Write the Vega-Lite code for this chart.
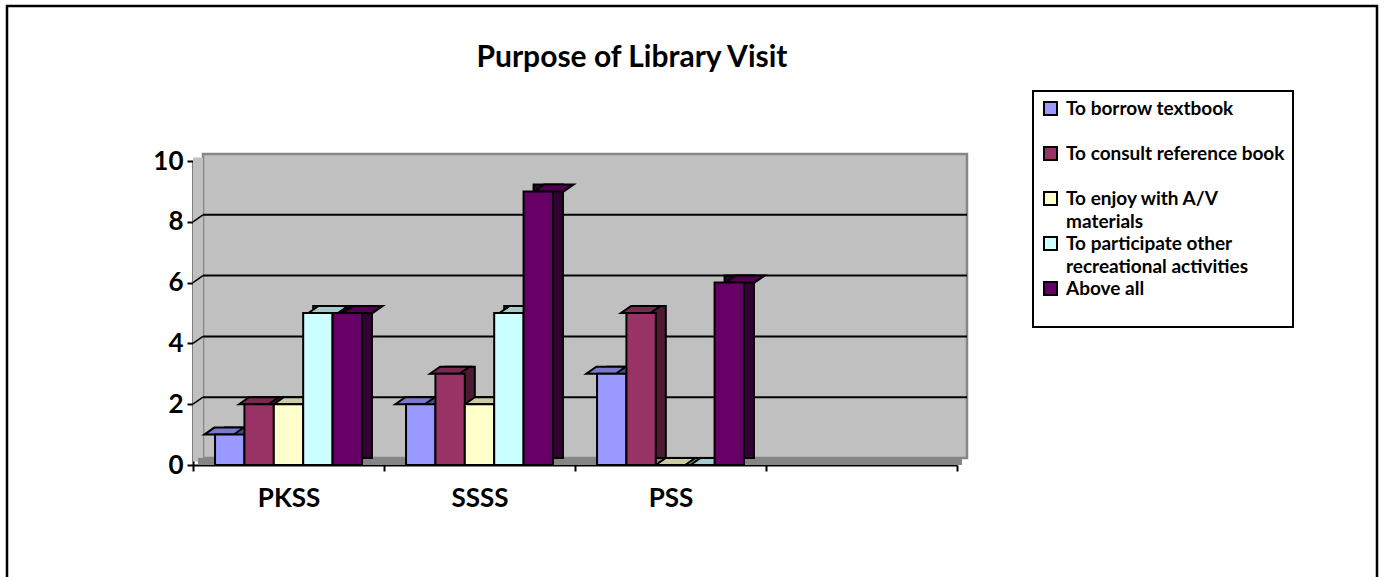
{
  "$schema": "https://vega.github.io/schema/vega-lite/v6.json",
  "width": 1370,
  "height": 575,
  "autosize": {"type": "none"},
  "padding": {"left": 7, "top": 6, "right": 7, "bottom": -4},
  "background": "white",
  "config": {
    "font": "Lato",
    "view": {"stroke": "black", "strokeWidth": 2.5, "fill": "white"},
    "axis": {"grid": false, "domainColor": "black", "domainWidth": 2, "tickColor": "black", "tickWidth": 2, "tickSize": 6, "labelFont": "Lato", "labelFontWeight": "bold", "labelColor": "black", "labelFontSize": 26},
    "axisY": {"offset": -186, "labelPadding": 4},
    "axisX": {"offset": -116, "labelPadding": 14, "labelAngle": 0},
    "legend": {"strokeWidth": 2},
    "style": {"guide-label": {"lineHeight": 23}}
  },
  "title": {
    "text": "Purpose of Library Visit",
    "font": "Lato",
    "fontSize": 30,
    "fontWeight": "bold",
    "color": "black",
    "anchor": "middle",
    "frame": "group",
    "offset": 0,
    "baseline": "alphabetic",
    "dx": -60,
    "dy": 91
  },
  "datasets": {
    "visits": [
      {"school": "PKSS", "purpose": "To borrow textbook", "count": 1},
      {"school": "PKSS", "purpose": "To consult reference book", "count": 2},
      {"school": "PKSS", "purpose": "To enjoy with A/V materials", "count": 2},
      {"school": "PKSS", "purpose": "To participate other recreational activities", "count": 5},
      {"school": "PKSS", "purpose": "Above all", "count": 5},
      {"school": "SSSS", "purpose": "To borrow textbook", "count": 2},
      {"school": "SSSS", "purpose": "To consult reference book", "count": 3},
      {"school": "SSSS", "purpose": "To enjoy with A/V materials", "count": 2},
      {"school": "SSSS", "purpose": "To participate other recreational activities", "count": 5},
      {"school": "SSSS", "purpose": "Above all", "count": 9},
      {"school": "PSS", "purpose": "To borrow textbook", "count": 3},
      {"school": "PSS", "purpose": "To consult reference book", "count": 5},
      {"school": "PSS", "purpose": "To enjoy with A/V materials", "count": 0},
      {"school": "PSS", "purpose": "To participate other recreational activities", "count": 0},
      {"school": "PSS", "purpose": "Above all", "count": 6}
    ],
    "gridlines": [{"v": 2}, {"v": 4}, {"v": 6}, {"v": 8}],
    "plane": [{}]
  },
  "layer": [
    {
      "data": {"name": "plane"},
      "mark": {"type": "rect", "fill": "#C0C0C0", "stroke": "#868686", "strokeWidth": 2.5, "xOffset": 10, "x2Offset": 10, "yOffset": -7, "y2Offset": -7},
      "encoding": {
        "x": {"datum": 0, "type": "quantitative", "scale": {"domain": [0, 1], "range": [186, 950]}, "axis": null},
        "x2": {"datum": 1},
        "y": {"datum": 0, "type": "quantitative", "scale": {"domain": [0, 10], "range": [459, 155]}, "title": null, "axis": {"values": [0, 2, 4, 6, 8, 10], "format": "d", "orient": "left"}},
        "y2": {"datum": 10}
      }
    },
    {
      "data": {"name": "plane"},
      "mark": {"type": "rect", "fill": "#C0C0C0", "x2Offset": 10, "yOffset": -3.5, "y2Offset": -3.5},
      "encoding": {
        "x": {"datum": 0, "type": "quantitative", "scale": {"domain": [0, 1], "range": [186, 950]}, "axis": null},
        "x2": {"datum": 0},
        "y": {"datum": 0, "type": "quantitative", "scale": {"domain": [0, 10], "range": [459, 155]}, "title": null},
        "y2": {"datum": 10}
      }
    },
    {
      "data": {"name": "plane"},
      "mark": {"type": "rect", "fill": "#858585", "xOffset": 5, "x2Offset": 5, "yOffset": -7},
      "encoding": {
        "x": {"datum": 0, "type": "quantitative", "scale": {"domain": [0, 1], "range": [186, 950]}, "axis": null},
        "x2": {"datum": 1},
        "y": {"datum": 0, "type": "quantitative", "scale": {"domain": [0, 10], "range": [459, 155]}, "title": null},
        "y2": {"datum": 0}
      }
    },
    {
      "data": {"name": "gridlines"},
      "mark": {"type": "rule", "color": "black", "strokeWidth": 2, "xOffset": 10, "x2Offset": 10, "yOffset": -7},
      "encoding": {
        "x": {"datum": 0, "type": "quantitative", "scale": {"domain": [0, 1], "range": [186, 950]}, "axis": null},
        "x2": {"datum": 1},
        "y": {"field": "v", "type": "quantitative", "scale": {"domain": [0, 10], "range": [459, 155]}, "title": null}
      }
    },
    {
      "data": {"name": "gridlines"},
      "mark": {"type": "rule", "color": "black", "strokeWidth": 1.5, "x2Offset": 10, "y2Offset": -7},
      "encoding": {
        "x": {"datum": 0, "type": "quantitative", "scale": {"domain": [0, 1], "range": [186, 950]}, "axis": null},
        "x2": {"datum": 0},
        "y": {"field": "v", "type": "quantitative", "scale": {"domain": [0, 10], "range": [459, 155]}, "title": null},
        "y2": {"field": "v"}
      }
    },
    {
      "data": {"name": "visits"},
      "mark": {"type": "bar", "yOffset": -7, "y2Offset": -7, "stroke": "black", "strokeWidth": 2},
      "encoding": {
        "x": {"field": "school", "type": "nominal", "scale": {"domain": ["PKSS", "SSSS", "PSS", ""], "range": [186, 950], "paddingInner": 0, "paddingOuter": 0}, "axis": null},
        "xOffset": {"field": "purpose", "type": "nominal", "scale": {"domain": ["To borrow textbook", "To consult reference book", "To enjoy with A/V materials", "To participate other recreational activities", "Above all"], "range": [10, 201], "paddingInner": 0, "paddingOuter": 0.75}},
        "y": {"field": "count", "type": "quantitative", "scale": {"domain": [0, 10], "range": [459, 155]}, "title": null},
        "fill": {"field": "purpose", "type": "nominal", "scale": {"domain": ["To borrow textbook", "To consult reference book", "To enjoy with A/V materials", "To participate other recreational activities", "Above all"], "range": ["#4D4D80", "#4D1A33", "#808066", "#668080", "#330033"]}, "legend": null}
      }
    },
    {
      "data": {"name": "visits"},
      "mark": {"type": "point", "shape": "M -1 0 L 1 0 L 1.68 -0.476 L -0.32 -0.476 Z", "size": 864, "filled": true, "opacity": 1, "stroke": "black", "strokeWidth": 2},
      "encoding": {
        "x": {"field": "school", "type": "nominal", "scale": {"domain": ["PKSS", "SSSS", "PSS", ""], "range": [186, 950], "paddingInner": 0, "paddingOuter": 0}, "axis": null},
        "xOffset": {"field": "purpose", "type": "nominal", "scale": {"domain": ["To borrow textbook", "To consult reference book", "To enjoy with A/V materials", "To participate other recreational activities", "Above all"], "range": [0, 191], "paddingInner": 0, "paddingOuter": 0.75}},
        "y": {"field": "count", "type": "quantitative", "scale": {"domain": [0, 10], "range": [459, 155]}, "title": null},
        "fill": {"field": "purpose", "type": "nominal", "scale": {"domain": ["To borrow textbook", "To consult reference book", "To enjoy with A/V materials", "To participate other recreational activities", "Above all"], "range": ["#7A7ACC", "#7A2952", "#CCCCA3", "#A3CCCC", "#520052"]}, "legend": null}
      }
    },
    {
      "data": {"name": "visits"},
      "mark": {"type": "bar", "stroke": "black", "strokeWidth": 2},
      "encoding": {
        "x": {"field": "school", "type": "nominal", "scale": {"domain": ["PKSS", "SSSS", "PSS", ""], "range": [186, 950], "paddingInner": 0, "paddingOuter": 0}, "title": null, "axis": {"orient": "bottom", "tickBand": "extent"}},
        "xOffset": {"field": "purpose", "type": "nominal", "scale": {"domain": ["To borrow textbook", "To consult reference book", "To enjoy with A/V materials", "To participate other recreational activities", "Above all"], "range": [0, 191], "paddingInner": 0, "paddingOuter": 0.75}},
        "y": {"field": "count", "type": "quantitative", "scale": {"domain": [0, 10], "range": [459, 155]}, "title": null},
        "fill": {
          "field": "purpose",
          "type": "nominal",
          "scale": {"domain": ["To borrow textbook", "To consult reference book", "To enjoy with A/V materials", "To participate other recreational activities", "Above all"], "range": ["#9999FF", "#993366", "#FFFFCC", "#CCFFFF", "#660066"]},
          "legend": {
            "orient": "none",
            "legendX": 1026,
            "legendY": 85,
            "title": " ",
            "titleOrient": "bottom",
            "titleFontSize": 14,
            "titlePadding": 6,
            "symbolType": "square",
            "symbolSize": 169,
            "symbolStrokeColor": "black",
            "symbolStrokeWidth": 2,
            "symbolOpacity": 1,
            "labelFont": "Lato",
            "labelFontSize": 19,
            "labelFontWeight": "bold",
            "labelColor": "black",
            "labelLimit": 500,
            "labelOffset": 6,
            "strokeColor": "black",
            "fillColor": "white",
            "padding": 8,
            "gridAlign": "all",
            "rowPadding": 1,
            "labelExpr": "datum.label == 'To enjoy with A/V materials' ? ['To enjoy with A/V', 'materials'] : datum.label == 'To participate other recreational activities' ? ['To participate other', 'recreational activities'] : datum.label"
          }
        }
      }
    }
  ],
  "resolve": {"scale": {"x": "independent", "xOffset": "independent", "fill": "independent"}}
}
